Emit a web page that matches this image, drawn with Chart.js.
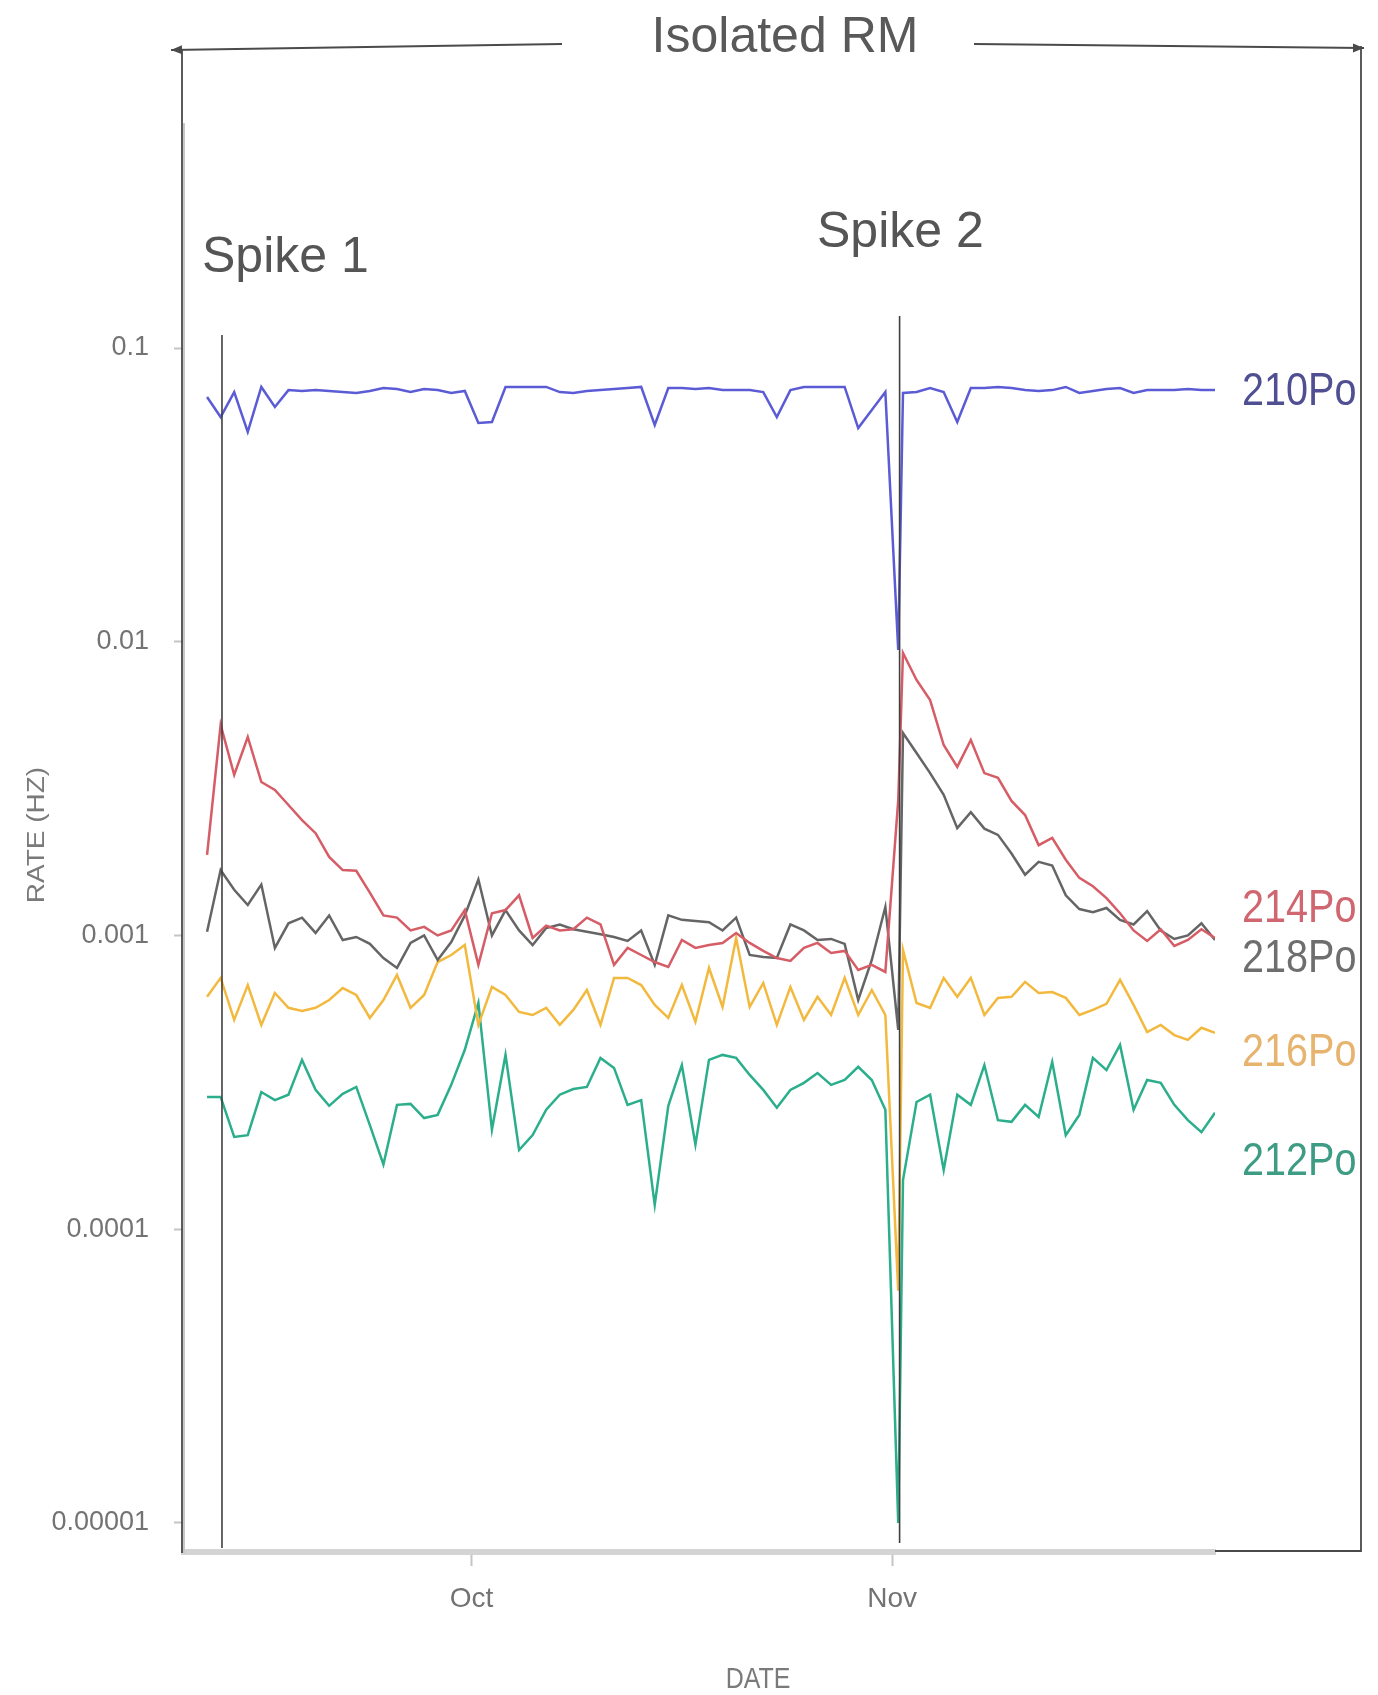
<!DOCTYPE html>
<html>
<head>
<meta charset="utf-8">
<title>Isolated RM</title>
<script src="https://cdn.jsdelivr.net/npm/chart.js@4.4.1/dist/chart.umd.min.js"></script>
<style>
  html, body { margin: 0; padding: 0; background: #fff; }
  #wrap { width: 1378px; height: 1695px; }
</style>
</head>
<body>
<div id="wrap"><canvas id="rateChart" width="1378" height="1695"></canvas></div>
<script>
// x values: days since 1 Sep (fractional), shared by every series
const dayOffset = [
  10.5, 11.5, 12.5, 13.5, 14.5, 15.5, 16.5, 17.5, 18.5, 19.5,
  20.5, 21.5, 22.5, 23.5, 24.5, 25.5, 26.5, 27.5, 28.5, 29.5,
  30.5, 31.5, 32.5, 33.5, 34.5, 35.5, 36.5, 37.5, 38.5, 39.5,
  40.5, 41.5, 42.5, 43.5, 44.5, 45.5, 46.5, 47.5, 48.5, 49.5,
  50.5, 51.5, 52.5, 53.5, 54.5, 55.5, 56.5, 57.5, 58.5, 59.5,
  60.5, 61.45,
  61.8, 62.8, 63.8, 64.8, 65.8, 66.8, 67.8, 68.8, 69.8, 70.8,
  71.8, 72.8, 73.8, 74.8, 75.8, 76.8, 77.8, 78.8, 79.8, 80.8,
  81.8, 82.8, 83.8, 84.8
];

// rates in Hz
const po210 = [
  0.0681, 0.0582, 0.0708, 0.0518, 0.0737, 0.0630, 0.0719, 0.0714, 0.0719, 0.0714,
  0.0708, 0.0703, 0.0714, 0.0731, 0.0725, 0.0708, 0.0725, 0.0719, 0.0703, 0.0714,
  0.0556, 0.0560, 0.0737, 0.0737, 0.0737, 0.0737, 0.0708, 0.0703, 0.0714, 0.0719,
  0.0725, 0.0731, 0.0737, 0.0547, 0.0731, 0.0731, 0.0725, 0.0731, 0.0719, 0.0719,
  0.0719, 0.0708, 0.0582, 0.0719, 0.0737, 0.0737, 0.0737, 0.0737, 0.0534, 0.0615,
  0.0708, 0.00938,
  0.0703, 0.0708, 0.0731, 0.0708, 0.0560, 0.0731, 0.0731, 0.0737, 0.0731, 0.0719,
  0.0714, 0.0719, 0.0737, 0.0703, 0.0714, 0.0725, 0.0731, 0.0703, 0.0719, 0.0719,
  0.0719, 0.0725, 0.0719, 0.0719
];

const po214 = [
  0.00188, 0.00521, 0.00352, 0.00474, 0.00333, 0.00313, 0.00278, 0.00247, 0.00223, 0.00185,
  0.00167, 0.00166, 0.00140, 0.00117, 0.00115, 0.00104, 0.00107, 0.00100, 0.00104, 0.00122,
  0.000794, 0.00119, 0.00122, 0.00137, 0.000981, 0.00108, 0.00104, 0.00105, 0.00115, 0.00109,
  0.000794, 0.000907, 0.000858, 0.000812, 0.000781, 0.000965, 0.000907, 0.000928, 0.000943, 0.00102,
  0.000943, 0.000886, 0.000838, 0.000819, 0.000907, 0.000943, 0.000872, 0.000886, 0.000763, 0.000794,
  0.000751, 0.00289,
  0.00916, 0.00741, 0.00633, 0.00445, 0.00375, 0.00463, 0.00357, 0.00344, 0.00287, 0.00257,
  0.00203, 0.00215, 0.00181, 0.00157, 0.00147, 0.00134, 0.00119, 0.00104, 0.000958, 0.00105,
  0.000921, 0.000965, 0.00105, 0.000981
];

const po218 = [
  0.00103, 0.00167, 0.00143, 0.00127, 0.00149, 0.000907, 0.00110, 0.00115, 0.00102, 0.00117,
  0.000965, 0.000988, 0.000936, 0.000838, 0.000775, 0.000943, 0.00100, 0.000825, 0.000950, 0.00117,
  0.00155, 0.00100, 0.00122, 0.00104, 0.000928, 0.00106, 0.00109, 0.00105, 0.00103, 0.00101,
  0.000988, 0.000958, 0.00104, 0.000794, 0.00117, 0.00113, 0.00112, 0.00111, 0.00104, 0.00115,
  0.000858, 0.000845, 0.000838, 0.00109, 0.00104, 0.000965, 0.000973, 0.000936, 0.000603, 0.000825,
  0.00125, 0.000477,
  0.00489, 0.00418, 0.00357, 0.00301, 0.00232, 0.00263, 0.00231, 0.00220, 0.00190, 0.00161,
  0.00178, 0.00173, 0.00137, 0.00123, 0.00120, 0.00124, 0.00113, 0.00109, 0.00121, 0.00104,
  0.000973, 0.00100, 0.00110, 0.000965
];

const po216 = [
  0.000618, 0.000717, 0.000516, 0.000678, 0.000496, 0.000637, 0.000567, 0.000553, 0.000567, 0.000603,
  0.000662, 0.000627, 0.000524, 0.000603, 0.000734, 0.000567, 0.000627, 0.000812, 0.000858, 0.000928,
  0.000496, 0.000668, 0.000627, 0.000549, 0.000536, 0.000567, 0.000496, 0.000558, 0.000652, 0.000496,
  0.000717, 0.000717, 0.000678, 0.000580, 0.000524, 0.000678, 0.000508, 0.000775, 0.000571, 0.000981,
  0.000571, 0.000689, 0.000496, 0.000668, 0.000516, 0.000618, 0.000536, 0.000717, 0.000536, 0.000652,
  0.000536, 0.0000617,
  0.000893, 0.000589, 0.000567, 0.000717, 0.000618, 0.000717, 0.000536, 0.000613, 0.000618, 0.000695,
  0.000637, 0.000642, 0.000613, 0.000536, 0.000558, 0.000585, 0.000706, 0.000580, 0.000469, 0.000496,
  0.000458, 0.000441, 0.000485, 0.000466
];

const po212 = [
  0.000282, 0.000282, 0.000206, 0.000209, 0.000293, 0.000275, 0.000287, 0.000377, 0.000298, 0.000263,
  0.000289, 0.000305, 0.000226, 0.000166, 0.000265, 0.000267, 0.000239, 0.000245, 0.000310, 0.000408,
  0.000589, 0.000218, 0.000392, 0.000186, 0.000209, 0.000255, 0.000287, 0.000300, 0.000305, 0.000383,
  0.000354, 0.000265, 0.000275, 0.000121, 0.000263, 0.000362, 0.000194, 0.000377, 0.000392, 0.000383,
  0.000335, 0.000298, 0.000259, 0.000298, 0.000315, 0.000340, 0.000310, 0.000322, 0.000357, 0.000322,
  0.000255, 0.00001,
  0.000147, 0.000271, 0.000287, 0.000159, 0.000287, 0.000265, 0.000362, 0.000235, 0.000232, 0.000265,
  0.000241, 0.000371, 0.000209, 0.000245, 0.000383, 0.000348, 0.000424, 0.000255, 0.000322, 0.000315,
  0.000265, 0.000235, 0.000214, 0.000249
];

const seriesNames = ['210Po', '214Po', '218Po', '216Po', '212Po'];
const seriesValues = [po210, po214, po218, po216, po212];
const lineColors = ['#5b5bd6', '#d65c66', '#656565', '#f2b93e', '#2bae8b'];
const labelColors = ['#4f4f92', '#cf6670', '#6e6e6e', '#e6b46e', '#3f9c84'];
const labelBaselines = [405, 922, 972, 1066, 1175];

const rateTicks = [0.1, 0.01, 0.001, 0.0001, 0.00001];
const rateTickLabels = ['0.1', '0.01', '0.001', '0.0001', '0.00001'];
const monthTicks = [30, 61];
const monthLabels = ['Oct', 'Nov'];

const spikeDays = [11.6, 61.55];
const spikeNames = ['Spike 1', 'Spike 2'];

const SANS = "'Liberation Sans', Arial, sans-serif";

// draws a string squeezed horizontally like the source image
function squeezedText(ctx, text, x, y, sx, sy, align) {
  ctx.save();
  ctx.translate(x, y);
  ctx.scale(sx, sy);
  ctx.textAlign = align || 'left';
  ctx.fillText(text, 0, 0);
  ctx.restore();
}

function arrowLine(ctx, x1, y1, x2, y2) {
  ctx.beginPath();
  ctx.moveTo(x1, y1);
  ctx.lineTo(x2, y2);
  ctx.stroke();
  const a = Math.atan2(y2 - y1, x2 - x1);
  ctx.beginPath();
  ctx.moveTo(x2, y2);
  ctx.lineTo(x2 - 11 * Math.cos(a) + 4.5 * Math.sin(a), y2 - 11 * Math.sin(a) - 4.5 * Math.cos(a));
  ctx.lineTo(x2 - 11 * Math.cos(a) - 4.5 * Math.sin(a), y2 - 11 * Math.sin(a) + 4.5 * Math.cos(a));
  ctx.closePath();
  ctx.fill();
}

// spike markers, bracket, title and the direct series labels
const annotations = {
  id: 'annotations',
  afterDraw(chart) {
    const ctx = chart.ctx;
    const xScale = chart.scales.x;
    ctx.save();

    // spike lines
    const spikeTop = [335, 316];
    const spikeBottom = [1548, 1543];
    ctx.strokeStyle = '#3f3f3f';
    ctx.lineWidth = 1.6;
    spikeDays.forEach((d, i) => {
      const px = xScale.getPixelForValue(d);
      ctx.beginPath();
      ctx.moveTo(px, spikeTop[i]);
      ctx.lineTo(px, spikeBottom[i]);
      ctx.stroke();
    });

    // spike captions
    ctx.fillStyle = '#555555';
    ctx.font = '50px ' + SANS;
    ctx.textBaseline = 'alphabetic';
    ctx.fillText(spikeNames[0], 202, 272);
    ctx.fillText(spikeNames[1], 817, 247);

    // bracket with arrows
    ctx.strokeStyle = '#4a4a4a';
    ctx.fillStyle = '#4a4a4a';
    ctx.lineWidth = 2.2;
    arrowLine(ctx, 562, 44, 171, 50);
    arrowLine(ctx, 974, 44, 1364, 48);
    ctx.lineWidth = 1.8;
    ctx.beginPath();
    ctx.moveTo(182, 50);
    ctx.lineTo(182, 1553);
    ctx.moveTo(1361, 46);
    ctx.lineTo(1361, 1551);
    ctx.lineTo(1215, 1551);
    ctx.stroke();

    // title
    ctx.fillStyle = '#595959';
    ctx.font = '50px ' + SANS;
    ctx.textAlign = 'center';
    ctx.fillText('Isolated RM', 785, 52);

    // direct labels
    ctx.font = '46px ' + SANS;
    seriesNames.forEach((name, i) => {
      ctx.fillStyle = labelColors[i];
      squeezedText(ctx, name, 1242, labelBaselines[i], 0.86, 1, 'left');
    });

    // axis titles
    ctx.fillStyle = '#7a7a7a';
    ctx.font = '29px ' + SANS;
    ctx.textBaseline = 'middle';
    squeezedText(ctx, 'DATE', 758, 1680, 0.86, 1, 'center');
    ctx.save();
    ctx.translate(37, 835);
    ctx.rotate(-Math.PI / 2);
    ctx.scale(1, 0.86);
    ctx.font = '28px ' + SANS;
    ctx.textAlign = 'center';
    ctx.fillText('RATE (HZ)', 0, 0);
    ctx.restore();

    ctx.restore();
  }
};

const datasets = seriesNames.map((name, i) => ({
  label: name,
  data: dayOffset.map((d, j) => ({ x: d, y: seriesValues[i][j] })),
  borderColor: lineColors[i],
  backgroundColor: lineColors[i],
  borderWidth: 2.5,
  pointRadius: 0,
  tension: 0,
  fill: false
}));

new Chart(document.getElementById('rateChart'), {
  type: 'line',
  data: { datasets: datasets },
  options: {
    responsive: false,
    animation: false,
    devicePixelRatio: 1,
    layout: { padding: { left: 0, top: 124, right: 163, bottom: 0 } },
    plugins: {
      legend: { display: false },
      tooltip: { enabled: false }
    },
    scales: {
      x: {
        type: 'linear',
        min: 8.8,
        max: 84.8,
        afterFit: scale => { scale.height = 143; },
        afterBuildTicks: scale => { scale.ticks = monthTicks.map(v => ({ value: v })); },
        ticks: {
          autoSkip: false,
          maxRotation: 0,
          padding: 16,
          color: '#737373',
          font: { family: SANS, size: 28 },
          callback: value => monthLabels[monthTicks.indexOf(value)]
        },
        grid: { drawOnChartArea: false, tickLength: 14, tickColor: '#c4c4c4', tickWidth: 2 },
        border: { display: true, color: '#d4d4d4', width: 6 }
      },
      y: {
        type: 'logarithmic',
        min: 0.00000796,
        max: 0.579,
        afterFit: scale => { scale.width = 184; },
        afterBuildTicks: scale => { scale.ticks = rateTicks.map(v => ({ value: v })); },
        ticks: {
          autoSkip: false,
          padding: 25,
          color: '#737373',
          font: { family: SANS, size: 27 },
          callback: value => rateTickLabels[rateTicks.indexOf(value)]
        },
        grid: { drawOnChartArea: false, tickLength: 10, tickColor: '#c4c4c4', tickWidth: 2 },
        border: { display: true, color: '#c8c8c8', width: 2 }
      }
    }
  },
  plugins: [annotations]
});
</script>
</body>
</html>
